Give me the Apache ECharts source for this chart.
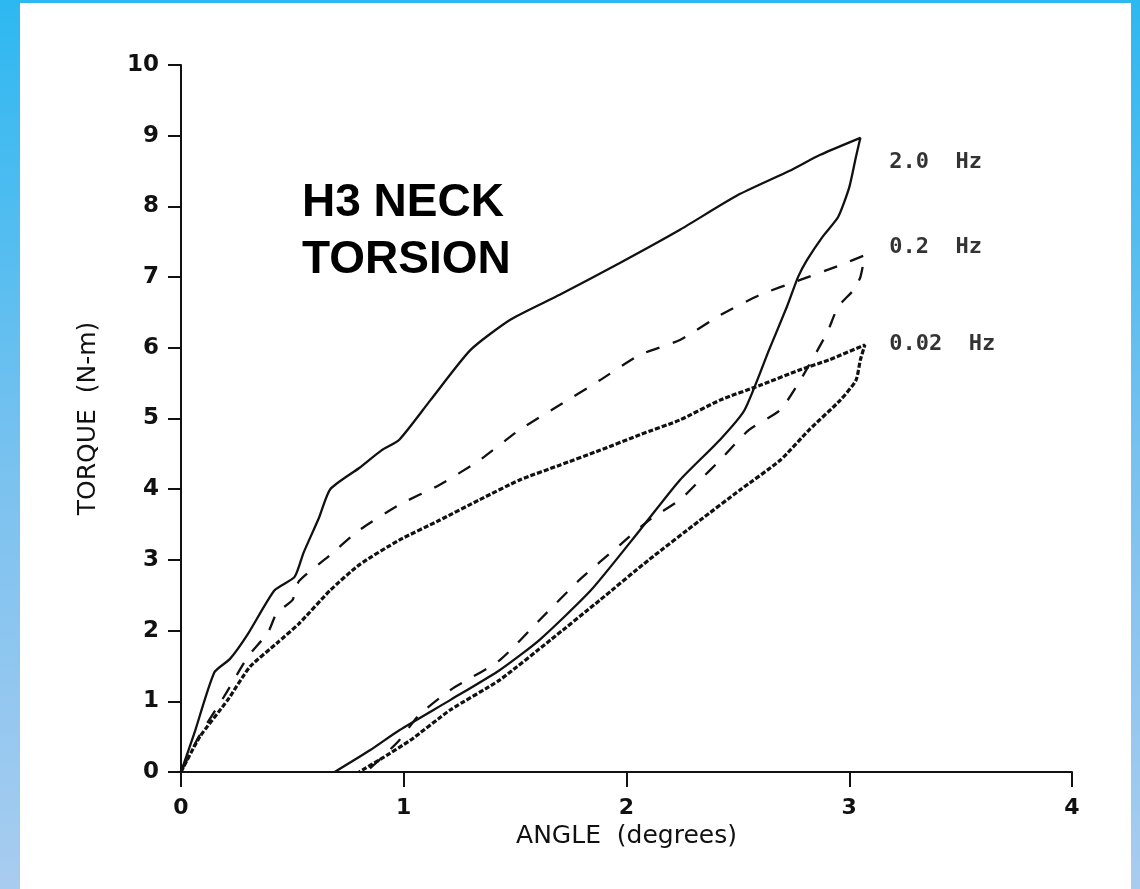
<!DOCTYPE html>
<html lang="en">

<head>
    <meta charset="UTF-8">
    <title>H3 Neck Torsion</title>
    <style>
        html, body { margin: 0; padding: 0; }
        body {
            width: 1140px;
            height: 889px;
            overflow: hidden;
            background: linear-gradient(to bottom, #2db8f1 0%, #7cc2ef 55%, #a8ccef 100%);
        }
        #box {
            position: absolute;
            left: 20px;
            top: 3px;
            width: 1111px;
            height: 886px;
            background: #fff;
        }
    </style>
</head>

<body>
    <div id="box"></div>
</body>
<script src="https://cdn.jsdelivr.net/npm/echarts@6/dist/echarts.min.js"></script>
<script>
    // [angle (degrees), torque (N-m)], loading branch then unloading branch
    var hz20 = [
        [0, 0], [0.06, 0.55], [0.15, 1.41], [0.22, 1.6], [0.3, 1.95], [0.42, 2.57], [0.51, 2.76],
        [0.55, 3.1], [0.62, 3.6], [0.67, 4.0], [0.8, 4.3], [0.9, 4.55], [0.98, 4.7], [1.12, 5.26],
        [1.3, 5.97], [1.48, 6.4], [1.7, 6.75], [1.97, 7.2], [2.24, 7.67], [2.5, 8.16], [2.73, 8.5],
        [2.87, 8.73], [3.05, 8.97],
        [3.03, 8.7], [3.0, 8.27], [2.95, 7.85], [2.88, 7.57], [2.81, 7.24], [2.77, 7.0], [2.72, 6.58],
        [2.64, 5.97], [2.53, 5.12], [2.42, 4.7], [2.24, 4.13], [2.06, 3.42], [1.84, 2.57],
        [1.61, 1.87], [1.43, 1.44], [1.21, 1.02], [0.98, 0.59], [0.85, 0.31], [0.69, 0]
    ];
    var hz02 = [
        [0, 0], [0.08, 0.5], [0.2, 1.1], [0.3, 1.63], [0.39, 1.97], [0.43, 2.25], [0.5, 2.43],
        [0.53, 2.7], [0.67, 3.07], [0.8, 3.42], [0.98, 3.78], [1.16, 4.06], [1.34, 4.41],
        [1.52, 4.84], [1.7, 5.19], [1.88, 5.54], [2.06, 5.9], [2.24, 6.11], [2.42, 6.46],
        [2.6, 6.75], [2.78, 6.96], [2.96, 7.17], [3.07, 7.31],
        [3.05, 7.0], [3.02, 6.82], [2.95, 6.58], [2.9, 6.21], [2.78, 5.54], [2.69, 5.12],
        [2.55, 4.84], [2.42, 4.41], [2.33, 4.13], [2.24, 3.85], [2.1, 3.56], [1.97, 3.21],
        [1.79, 2.72], [1.61, 2.15], [1.43, 1.58], [1.21, 1.16], [1.07, 0.81], [0.98, 0.45],
        [0.89, 0.17], [0.83, 0]
    ];
    var hz002 = [
        [0, 0], [0.085, 0.5], [0.21, 1.02], [0.31, 1.49], [0.43, 1.82], [0.53, 2.1], [0.67, 2.57],
        [0.8, 2.93], [0.98, 3.28], [1.16, 3.56], [1.34, 3.85], [1.52, 4.13], [1.7, 4.34],
        [1.88, 4.55], [2.06, 4.77], [2.24, 4.98], [2.42, 5.26], [2.6, 5.47], [2.78, 5.69],
        [2.91, 5.83], [3.07, 6.04],
        [3.05, 5.83], [3.03, 5.54], [2.96, 5.26], [2.82, 4.84], [2.69, 4.41], [2.51, 3.99],
        [2.33, 3.56], [2.1, 3.0], [1.88, 2.43], [1.66, 1.87], [1.43, 1.3], [1.21, 0.88],
        [1.03, 0.45], [0.89, 0.17], [0.8, 0]
    ];
    var seriesNames = ['2.0  Hz', '0.2  Hz', '0.02  Hz'];
    // where each frequency label sits, in data units
    var labelAt = [[3.18, 8.62], [3.18, 7.42], [3.18, 6.05]];

    var ink = '#111';
    var monoFont = '"DejaVu Sans Mono", monospace';

    var box = echarts.init(document.getElementById('box'));

    function tag(i) {
        return {
            name: seriesNames[i],
            type: 'scatter',
            symbolSize: 0,
            silent: true,
            data: [labelAt[i]],
            label: {
                show: true,
                position: 'right',
                distance: 0,
                formatter: seriesNames[i],
                color: '#000',
                fontFamily: monoFont,
                fontWeight: 'bold',
                fontSize: 22
            }
        };
    }

    var option = {
        backgroundColor: '#fff',
        animation: false,
        grid: { left: 161, right: 59, top: 62, bottom: 117 },
        xAxis: {
            type: 'value',
            min: 0,
            max: 4,
            interval: 1,
            name: 'ANGLE  (degrees)',
            nameLocation: 'middle',
            nameGap: 42,
            nameTextStyle: { color: ink, fontFamily: 'DejaVu Sans', fontSize: 25 },
            axisLine: { show: true, lineStyle: { color: ink, width: 2 } },
            axisTick: { show: true, length: 15, lineStyle: { color: ink, width: 2 } },
            axisLabel: { color: ink, fontFamily: 'DejaVu Sans', fontWeight: 'bold', fontSize: 22, margin: 25 },
            splitLine: { show: false }
        },
        yAxis: {
            type: 'value',
            min: 0,
            max: 10,
            interval: 1,
            name: 'TORQUE  (N-m)',
            nameLocation: 'middle',
            nameGap: 80,
            nameTextStyle: { color: ink, fontFamily: 'DejaVu Sans', fontSize: 25 },
            axisLine: { show: true, lineStyle: { color: ink, width: 2 } },
            axisTick: { show: true, length: 13, lineStyle: { color: ink, width: 2 } },
            axisLabel: { color: ink, fontFamily: 'DejaVu Sans', fontWeight: 'bold', fontSize: 23, margin: 22 },
            splitLine: { show: false }
        },
        graphic: [
            {
                type: 'text',
                left: 282,
                top: 172,
                style: {
                    text: 'H3 NECK\nTORSION',
                    fill: '#000',
                    font: 'bold 46px "Liberation Sans", Arial, sans-serif',
                    lineHeight: 57
                }
            }
        ],
        series: [
            {
                name: seriesNames[0],
                type: 'line',
                data: hz20,
                symbol: 'none',
                smooth: 0.2,
                lineStyle: { color: ink, width: 2.3 }
            },
            {
                name: seriesNames[1],
                type: 'line',
                data: hz02,
                symbol: 'none',
                smooth: 0.2,
                lineStyle: { color: ink, width: 2.3, type: [14, 14] }
            },
            {
                name: seriesNames[2],
                type: 'line',
                data: hz002,
                symbol: 'none',
                smooth: 0.2,
                lineStyle: { color: ink, width: 3.2, type: [5, 2] }
            },
            tag(0), tag(1), tag(2)
        ]
    };
    box.setOption(option);
</script>

</html>
